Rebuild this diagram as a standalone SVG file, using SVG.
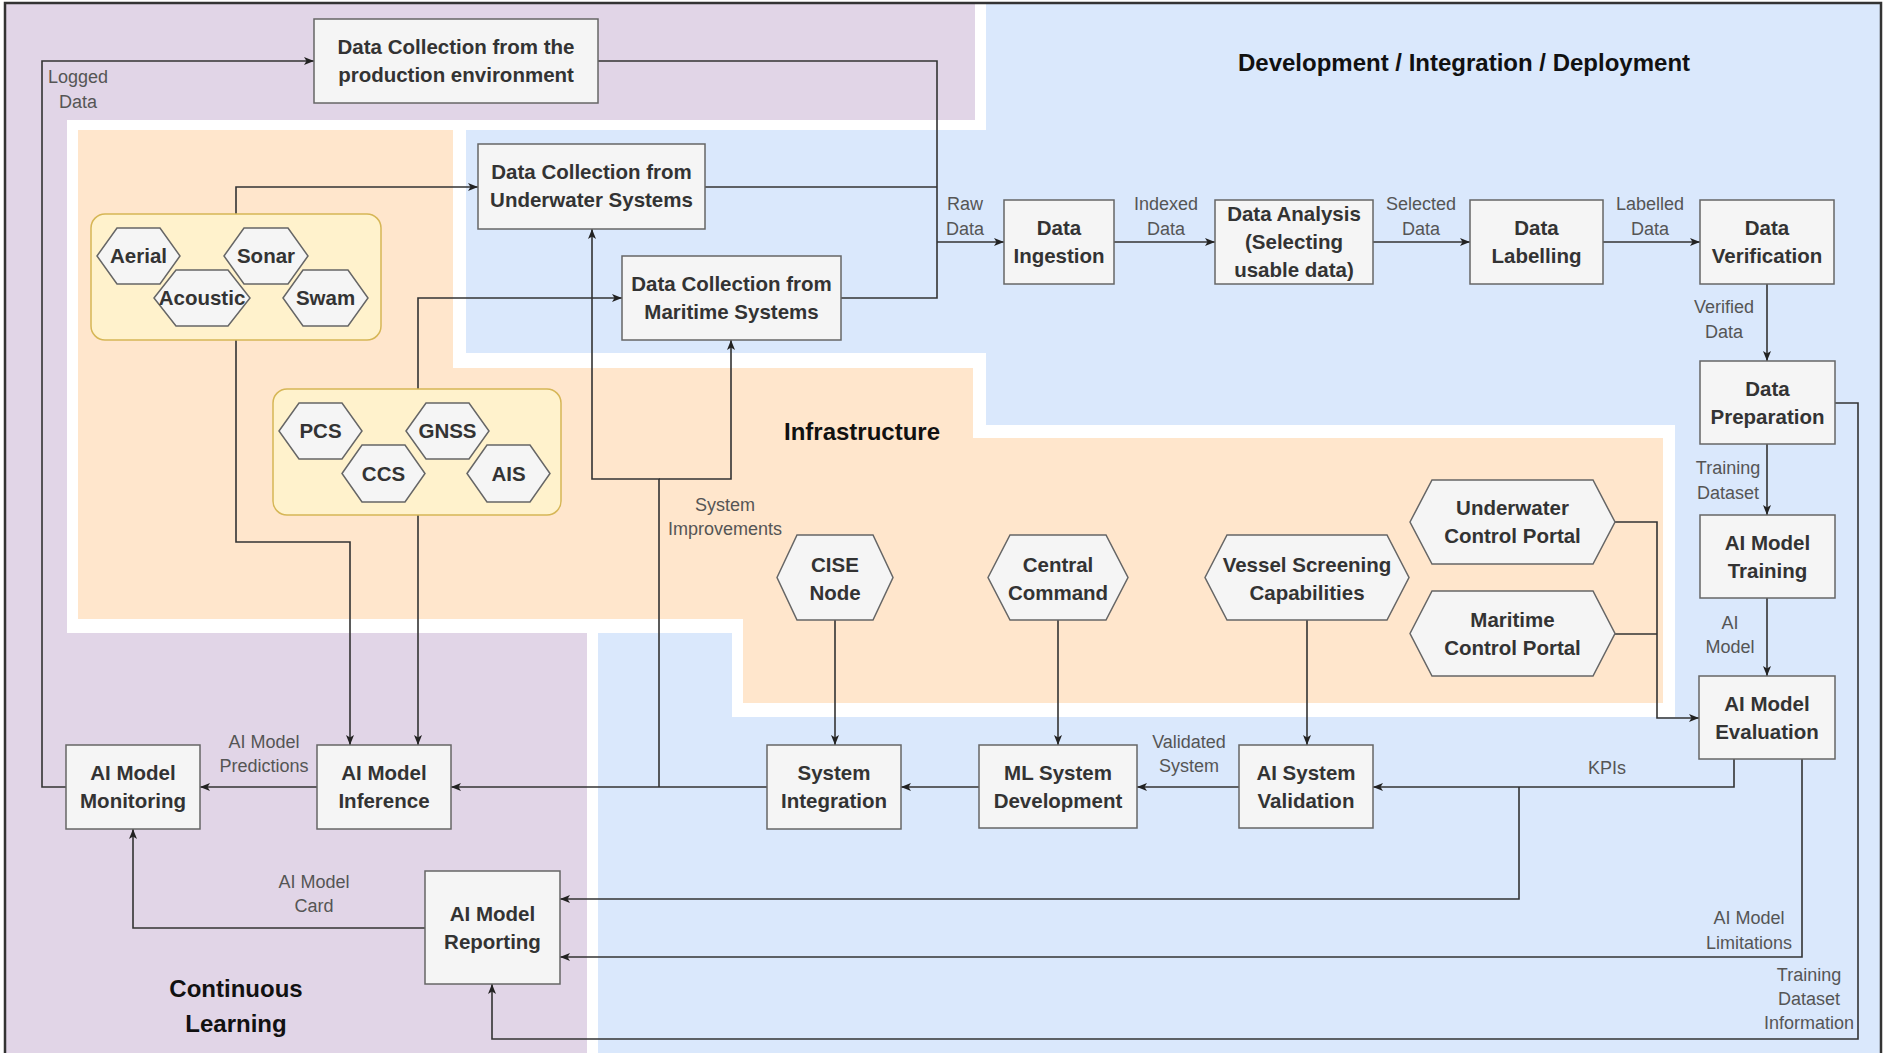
<svg xmlns="http://www.w3.org/2000/svg" width="1884" height="1053" viewBox="0 0 1884 1053">
<defs>
<style>
.box{fill:#f5f5f5;stroke:#666;stroke-width:1.5}
.grp{fill:#fff2cc;stroke:#d6b656;stroke-width:1.5}
.t{font-family:"Liberation Sans",Arial,sans-serif;font-size:20.5px;font-weight:bold;fill:#333;text-anchor:middle}
.l{font-family:"Liberation Sans",Arial,sans-serif;font-size:18px;fill:#555;text-anchor:middle}
.h{font-family:"Liberation Sans",Arial,sans-serif;font-size:24px;font-weight:bold;fill:#111;text-anchor:middle}
.c{fill:none;stroke:#333;stroke-width:1.6}
.a{marker-end:url(#arr)}
</style>
<marker id="arr" viewBox="0 0 10 8" refX="10" refY="4" markerWidth="10" markerHeight="8" markerUnits="userSpaceOnUse" orient="auto">
<path d="M0,0 L10,4 L0,8 L2.5,4 Z" fill="#222"/>
</marker>
</defs>
<rect width="1884" height="1053" fill="#fff"/>
<g id="regions">
<path d="M5,3 H975 V120 H67 V633 H587 V1053 H5 Z" fill="#e1d5e7"/>
<path d="M986,3 H1881 V1053 H598 V633 H732 V717 H1675 V425 H986 V353 H466 V130 H986 Z" fill="#dae8fc"/>
<path d="M78,130 H453 V368 H973 V438 H1663 V703 H743 V619 H78 Z" fill="#ffe6cc"/>
<path d="M5,1053 V3 H1881 V1053" fill="none" stroke="#333" stroke-width="2.5"/>
<text class="h" x="1464" y="71">Development / Integration / Deployment</text>
<text class="h" x="862" y="440">Infrastructure</text>
<text class="h" x="236" y="997">Continuous</text>
<text class="h" x="236" y="1032">Learning</text>
</g>
<g id="connectors">
<path class="c a" d="M66,787 H42 V61 H314"/>
<path class="c" d="M598,61 H937 V298 H841"/>
<path class="c" d="M705,187 H937"/>
<path class="c a" d="M937,242 H1004"/>
<path class="c a" d="M236,214 V187 H478"/>
<path class="c a" d="M236,340 V542 H350 V745"/>
<path class="c a" d="M418,389 V298 H622"/>
<path class="c a" d="M418,515 V745"/>
<path class="c a" d="M767,787 H451"/>
<path class="c a" d="M659,787 V479 H592 V229"/>
<path class="c a" d="M659,479 H731 V340"/>
<path class="c a" d="M835,620 V745"/>
<path class="c a" d="M1058,620 V745"/>
<path class="c a" d="M1307,620 V745"/>
<path class="c a" d="M979,787 H901"/>
<path class="c a" d="M1239,787 H1137"/>
<path class="c a" d="M317,787 H200"/>
<path class="c a" d="M1734,759 V787 H1373"/>
<path class="c a" d="M1519,787 V899 H560"/>
<path class="c a" d="M1802,759 V957 H560"/>
<path class="c a" d="M1835,403 H1858 V1039 H492 V984"/>
<path class="c a" d="M1767,284 V361"/>
<path class="c a" d="M1767,444 V515"/>
<path class="c a" d="M1767,598 V676"/>
<path class="c a" d="M1615,522 H1657 V718 H1699"/>
<path class="c" d="M1615,634 H1657"/>
<path class="c a" d="M425,928 H133 V829"/>
<path class="c a" d="M1114,242 H1215"/>
<path class="c a" d="M1373,242 H1470"/>
<path class="c a" d="M1603,242 H1700"/>
<text class="l" x="78" y="83">Logged</text><text class="l" x="78" y="108">Data</text>
<text class="l" x="965" y="210">Raw</text><text class="l" x="965" y="235">Data</text>
<text class="l" x="1166" y="210">Indexed</text><text class="l" x="1166" y="235">Data</text>
<text class="l" x="1421" y="210">Selected</text><text class="l" x="1421" y="235">Data</text>
<text class="l" x="1650" y="210">Labelled</text><text class="l" x="1650" y="235">Data</text>
<text class="l" x="1724" y="313">Verified</text><text class="l" x="1724" y="338">Data</text>
<text class="l" x="1728" y="474">Training</text><text class="l" x="1728" y="499">Dataset</text>
<text class="l" x="1730" y="629">AI</text><text class="l" x="1730" y="653">Model</text>
<text class="l" x="1607" y="774">KPIs</text>
<text class="l" x="1189" y="748">Validated</text><text class="l" x="1189" y="772">System</text>
<text class="l" x="264" y="748">AI Model</text><text class="l" x="264" y="772">Predictions</text>
<text class="l" x="314" y="888">AI Model</text><text class="l" x="314" y="912">Card</text>
<text class="l" x="1749" y="924">AI Model</text><text class="l" x="1749" y="949">Limitations</text>
<text class="l" x="1809" y="981">Training</text><text class="l" x="1809" y="1005">Dataset</text><text class="l" x="1809" y="1029">Information</text>
<text class="l" x="725" y="511">System</text><text class="l" x="725" y="535">Improvements</text>
</g>
<g id="n_prod"><rect class="box" x="314" y="19" width="284" height="84"/><text class="t" x="456" y="54">Data Collection from the</text><text class="t" x="456" y="82">production environment</text></g>
<g id="n_uw"><rect class="box" x="478" y="144" width="227" height="85"/><text class="t" x="591.5" y="179">Data Collection from</text><text class="t" x="591.5" y="207">Underwater Systems</text></g>
<g id="n_mar"><rect class="box" x="622" y="256" width="219" height="84"/><text class="t" x="731.5" y="291">Data Collection from</text><text class="t" x="731.5" y="319">Maritime Systems</text></g>
<g id="n_ing"><rect class="box" x="1004" y="200" width="110" height="84"/><text class="t" x="1059" y="235">Data</text><text class="t" x="1059" y="263">Ingestion</text></g>
<g id="n_ana"><rect class="box" x="1215" y="200" width="158" height="84"/><text class="t" x="1294" y="221">Data Analysis</text><text class="t" x="1294" y="249">(Selecting</text><text class="t" x="1294" y="277">usable data)</text></g>
<g id="n_lab"><rect class="box" x="1470" y="200" width="133" height="84"/><text class="t" x="1536.5" y="235">Data</text><text class="t" x="1536.5" y="263">Labelling</text></g>
<g id="n_ver"><rect class="box" x="1700" y="200" width="134" height="84"/><text class="t" x="1767" y="235">Data</text><text class="t" x="1767" y="263">Verification</text></g>
<g id="n_prep"><rect class="box" x="1700" y="361" width="135" height="83"/><text class="t" x="1767.5" y="396">Data</text><text class="t" x="1767.5" y="424">Preparation</text></g>
<g id="n_train"><rect class="box" x="1700" y="515" width="135" height="83"/><text class="t" x="1767.5" y="550">AI Model</text><text class="t" x="1767.5" y="578">Training</text></g>
<g id="n_eval"><rect class="box" x="1699" y="676" width="136" height="83"/><text class="t" x="1767" y="711">AI Model</text><text class="t" x="1767" y="739">Evaluation</text></g>
<g id="n_val"><rect class="box" x="1239" y="745" width="134" height="83"/><text class="t" x="1306" y="780">AI System</text><text class="t" x="1306" y="808">Validation</text></g>
<g id="n_mlsd"><rect class="box" x="979" y="745" width="158" height="83"/><text class="t" x="1058" y="780">ML System</text><text class="t" x="1058" y="808">Development</text></g>
<g id="n_sysint"><rect class="box" x="767" y="745" width="134" height="84"/><text class="t" x="834" y="780">System</text><text class="t" x="834" y="808">Integration</text></g>
<g id="n_inf"><rect class="box" x="317" y="745" width="134" height="84"/><text class="t" x="384" y="780">AI Model</text><text class="t" x="384" y="808">Inference</text></g>
<g id="n_mon"><rect class="box" x="66" y="745" width="134" height="84"/><text class="t" x="133" y="780">AI Model</text><text class="t" x="133" y="808">Monitoring</text></g>
<g id="n_rep"><rect class="box" x="425" y="871" width="135" height="113"/><text class="t" x="492.5" y="921">AI Model</text><text class="t" x="492.5" y="949">Reporting</text></g>
<g id="g_sensors1"><rect class="grp" x="91" y="214" width="290" height="126" rx="14"/></g>
<g id="hx_aerial"><polygon class="box" points="97,256 117,228 160,228 180,256 160,284 117,284"/><text class="t" x="138.5" y="263">Aerial</text></g>
<g id="hx_sonar"><polygon class="box" points="224,256 244,228 288,228 308,256 288,284 244,284"/><text class="t" x="266" y="263">Sonar</text></g>
<g id="hx_acoustic"><polygon class="box" points="154,298 176,270 228,270 250,298 228,326 176,326"/><text class="t" x="202" y="305">Acoustic</text></g>
<g id="hx_swam"><polygon class="box" points="283,298 303,270 348,270 368,298 348,326 303,326"/><text class="t" x="325.5" y="305">Swam</text></g>
<g id="g_sensors2"><rect class="grp" x="273" y="389" width="288" height="126" rx="14"/></g>
<g id="hx_pcs"><polygon class="box" points="279,431 299,403 342,403 362,431 342,459 299,459"/><text class="t" x="320.5" y="438">PCS</text></g>
<g id="hx_gnss"><polygon class="box" points="406,431 426,403 469,403 489,431 469,459 426,459"/><text class="t" x="447.5" y="438">GNSS</text></g>
<g id="hx_ccs"><polygon class="box" points="342,473.5 362,445 405,445 425,473.5 405,502 362,502"/><text class="t" x="383.5" y="480.5">CCS</text></g>
<g id="hx_ais"><polygon class="box" points="467,473.5 487,445 530,445 550,473.5 530,502 487,502"/><text class="t" x="508.5" y="480.5">AIS</text></g>
<g id="hx_cise"><polygon class="box" points="777,577.5 797,535 873,535 893,577.5 873,620 797,620"/><text class="t" x="835" y="571.5">CISE</text><text class="t" x="835" y="599.5">Node</text></g>
<g id="hx_central"><polygon class="box" points="988,577.5 1010,535 1106,535 1128,577.5 1106,620 1010,620"/><text class="t" x="1058" y="571.5">Central</text><text class="t" x="1058" y="599.5">Command</text></g>
<g id="hx_vessel"><polygon class="box" points="1205,577.5 1227,535 1387,535 1409,577.5 1387,620 1227,620"/><text class="t" x="1307" y="571.5">Vessel Screening</text><text class="t" x="1307" y="599.5">Capabilities</text></g>
<g id="hx_uwportal"><polygon class="box" points="1410,522 1432,480 1593,480 1615,522 1593,564 1432,564"/><text class="t" x="1512.5" y="515">Underwater</text><text class="t" x="1512.5" y="543">Control Portal</text></g>
<g id="hx_marportal"><polygon class="box" points="1410,633.5 1432,591 1593,591 1615,633.5 1593,676 1432,676"/><text class="t" x="1512.5" y="627">Maritime</text><text class="t" x="1512.5" y="655">Control Portal</text></g>
</svg>
